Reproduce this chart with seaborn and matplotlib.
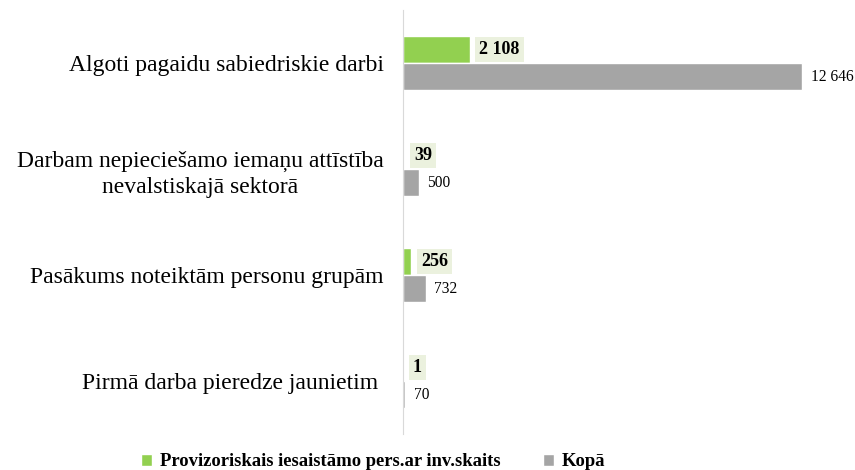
import numpy as np
import pandas as pd
import seaborn as sns
import matplotlib.pyplot as plt

categories = [
    'Algoti pagaidu sabiedriskie darbi',
    'Darbam nepieciešamo iemaņu attīstība\nnevalstiskajā sektorā',
    'Pasākums noteiktām personu grupām',
    'Pirmā darba pieredze jaunietim ',
]
series_names = ['Provizoriskais iesaistāmo pers.ar inv.skaits', 'Kopā']
provizoriskais = [2108, 39, 256, 1]
kopa = [12646, 500, 732, 70]


def fmt(v):
    return f'{v:,}'.replace(',', ' ')


sns.set_style('white')
plt.rcParams['font.family'] = ['Liberation Serif', 'DejaVu Serif']
plt.rcParams['text.color'] = 'black'
plt.rcParams['ytick.color'] = 'black'

data = pd.DataFrame({
    'cat': categories * 2,
    'val': provizoriskais + kopa,
    'series': [series_names[0]] * 4 + [series_names[1]] * 4,
})

fig = plt.figure(figsize=(8.55, 4.7), dpi=100)
ax = fig.add_axes([403 / 855, 36 / 470, 442 / 855, 424 / 470])
sns.barplot(data=data, x='val', y='cat', hue='series', orient='h',
            palette=['#92D050', '#A5A5A5'], width=0.51, ax=ax,
            saturation=1, err_kws={'linewidth': 0})

ax.set_xlim(0, 14000)
ax.set_xlabel('')
ax.set_ylabel('')
ax.set_xticks([])
for s in ['top', 'right', 'bottom']:
    ax.spines[s].set_visible(False)
ax.spines['left'].set_color('#D9D9D9')
ax.tick_params(axis='y', length=0, pad=14, labelsize=17, labelcolor='black')
for lab in ax.get_yticklabels():
    lab.set_multialignment('center')
    lab.set_linespacing(1.35)

# value labels
for bar, v in zip(ax.containers[0], provizoriskais):
    ax.annotate(fmt(v), (bar.get_width(), bar.get_y() + bar.get_height() / 2),
                xytext=(7, 0), textcoords='offset points', va='center',
                ha='left', fontsize=13, fontweight='bold', color='black',
                bbox=dict(boxstyle='square,pad=0.22', fc='#EBF1DE', ec='none'))
for bar, v in zip(ax.containers[1], kopa):
    ax.annotate(fmt(v), (bar.get_width(), bar.get_y() + bar.get_height() / 2),
                xytext=(6, 0), textcoords='offset points', va='center',
                ha='left', fontsize=11.2, color='black')

ax.get_legend().remove()
handles = [plt.Rectangle((0, 0), 1, 1, fc=c) for c in ['#92D050', '#A5A5A5']]
fig.legend(handles, series_names, loc='center', bbox_to_anchor=(373 / 855, 8 / 470),
           ncol=2, frameon=False, handlelength=0.6, handleheight=0.6,
           handletextpad=0.4, columnspacing=2.3,
           prop={'weight': 'bold', 'size': 13.4})

fig.savefig('out.png', dpi=100)
